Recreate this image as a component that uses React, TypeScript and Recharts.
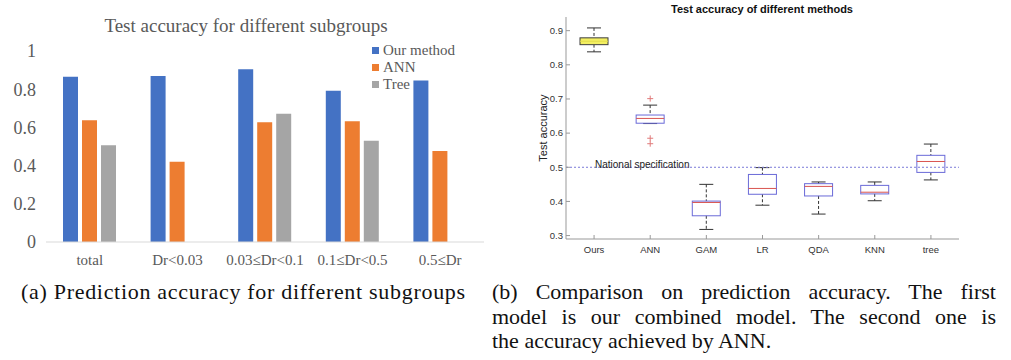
import React from "react";
import {
  BarChart,
  Bar,
  XAxis,
  YAxis,
  ComposedChart,
  Scatter,
  ReferenceLine,
} from "recharts";

// (a) subgroup accuracy
const groups = ["total", "Dr<0.03", "0.03≤Dr<0.1", "0.1≤Dr<0.5", "0.5≤Dr"];
const ourMethod = [0.865, 0.869, 0.904, 0.792, 0.845];
const annAcc = [0.637, 0.42, 0.627, 0.632, 0.476];
const treeAcc = [0.506, null, 0.672, 0.53, null];
const barTicks = [0, 0.2, 0.4, 0.6, 0.8, 1];

// (b) box plot per method
const methods = ["Ours", "ANN", "GAM", "LR", "QDA", "KNN", "tree"];
const whiskerLow = [0.838, 0.628, 0.318, 0.389, 0.363, 0.402, 0.463];
const q1 = [0.859, 0.629, 0.358, 0.421, 0.416, 0.422, 0.485];
const median = [0.869, 0.643, 0.397, 0.438, 0.444, 0.427, 0.517];
const q3 = [0.879, 0.653, 0.401, 0.479, 0.452, 0.447, 0.535];
const whiskerHigh = [0.908, 0.682, 0.45, 0.499, 0.457, 0.457, 0.568];
const outlierA = [null, 0.701, null, null, null, null, null];
const outlierB = [null, 0.585, null, null, null, null, null];
const outlierC = [null, 0.569, null, null, null, null, null];
const boxTicks = [0.3, 0.4, 0.5, 0.6, 0.7, 0.8, 0.9];
const nationalSpec = 0.5;

const barData = groups.map((name, i) => ({
  name,
  ours: ourMethod[i],
  ann: annAcc[i],
  tree: treeAcc[i],
}));

const boxData = methods.map((name, i) => ({
  name,
  range: [whiskerLow[i], whiskerHigh[i]],
  q1: q1[i],
  med: median[i],
  q3: q3[i],
  o1: outlierA[i],
  o2: outlierB[i],
  o3: outlierC[i],
}));

const serif = "'Liberation Serif', 'Times New Roman', serif";
const sans = "'Liberation Sans', Arial, sans-serif";

const legendItems = [
  { label: "Our method", color: "#4472C4" },
  { label: "ANN", color: "#ED7D31" },
  { label: "Tree", color: "#A5A5A5" },
];

// whiskers, caps, box and median, placed with the bar's own y scale
const BoxShape = (props: any) => {
  const { x, y, width, height, payload, index } = props;
  const [lo, hi] = payload.range;
  const k = height / (hi - lo);
  const py = (v: number) => y + (hi - v) * k;
  const cx = x + width / 2;
  const cap = width / 4;
  const ours = index === 0;
  const edge = ours ? "#3c3c3c" : "#6a6ad8";
  return (
    <g>
      <line x1={cx} x2={cx} y1={py(hi)} y2={py(payload.q3)} stroke="#333" strokeDasharray="3 2" />
      <line x1={cx} x2={cx} y1={py(payload.q1)} y2={py(lo)} stroke="#333" strokeDasharray="3 2" />
      <line x1={cx - cap} x2={cx + cap} y1={py(hi)} y2={py(hi)} stroke="#333" />
      <line x1={cx - cap} x2={cx + cap} y1={py(lo)} y2={py(lo)} stroke="#333" />
      <rect
        x={x}
        y={py(payload.q3)}
        width={width}
        height={py(payload.q1) - py(payload.q3)}
        fill={ours ? "#f3ef62" : "none"}
        stroke={edge}
      />
      <line
        x1={x}
        x2={x + width}
        y1={py(payload.med)}
        y2={py(payload.med)}
        stroke={ours ? "#e3dc4a" : "#d9534f"}
      />
    </g>
  );
};

const PlusShape = (props: any) => {
  const { cx, cy } = props;
  if (!Number.isFinite(cx) || !Number.isFinite(cy)) return <g />;
  return (
    <path
      d={`M${cx - 3},${cy}h6M${cx},${cy - 3}v6`}
      stroke="#e07a7a"
      strokeWidth={1}
      fill="none"
    />
  );
};

const emptyTick = () => <g />;

export default function App() {
  return (
    <div
      style={{
        position: "absolute",
        left: 0,
        top: 0,
        width: 1011,
        height: 360,
        background: "#fff",
        overflow: "hidden",
      }}
    >
      {/* left: bar chart */}
      <div
        style={{
          position: "absolute",
          left: 46,
          width: 400,
          top: 15,
          textAlign: "center",
          fontFamily: serif,
          fontSize: 19,
          color: "#595959",
        }}
      >
        Test accuracy for different subgroups
      </div>
      <div style={{ position: "absolute", left: 0, top: 0 }}>
        <BarChart
          width={490}
          height={275}
          data={barData}
          margin={{ top: 51, right: 6, left: 0, bottom: 3 }}
          barSize={15}
          barGap={4}
        >
          <XAxis
            dataKey="name"
            height={30}
            interval={0}
            tickLine={false}
            tickSize={0}
            tickMargin={12}
            axisLine={{ stroke: "#d9d9d9" }}
            tick={{ fontFamily: serif, fontSize: 15, fill: "#595959" }}
          />
          <YAxis
            domain={[0, 1]}
            ticks={barTicks}
            width={46}
            axisLine={false}
            tickLine={false}
            tickSize={0}
            tickMargin={10}
            tick={{ fontFamily: serif, fontSize: 18, fill: "#595959" }}
          />
          <Bar dataKey="ours" fill="#4472C4" isAnimationActive={false} />
          <Bar dataKey="ann" fill="#ED7D31" isAnimationActive={false} />
          <Bar dataKey="tree" fill="#A5A5A5" isAnimationActive={false} />
        </BarChart>
      </div>
      <div style={{ position: "absolute", left: 372, top: 42 }}>
        {legendItems.map((it) => (
          <div
            key={it.label}
            style={{
              display: "flex",
              alignItems: "center",
              height: 17,
              fontFamily: serif,
              fontSize: 15,
              color: "#595959",
            }}
          >
            <span
              style={{
                display: "inline-block",
                width: 7,
                height: 7,
                background: it.color,
                marginRight: 4,
              }}
            />
            {it.label}
          </div>
        ))}
      </div>

      {/* right: box plot */}
      <div
        style={{
          position: "absolute",
          left: 565,
          width: 394,
          top: 3,
          textAlign: "center",
          fontFamily: sans,
          fontWeight: "bold",
          fontSize: 11,
          color: "#111",
        }}
      >
        Test accuracy of different methods
      </div>
      <div style={{ position: "absolute", left: 500, top: 0 }}>
        <ComposedChart
          width={511}
          height={270}
          data={boxData}
          margin={{ top: 17, right: 52, left: 0, bottom: 1 }}
          barSize={28}
        >
          <XAxis
            dataKey="name"
            height={30}
            interval={0}
            tickSize={-4}
            tickMargin={11}
            axisLine={{ stroke: "#999" }}
            tickLine={{ stroke: "#999" }}
            tick={{ fontFamily: sans, fontSize: 9.5, fill: "#333" }}
          />
          <XAxis
            xAxisId="top"
            orientation="top"
            dataKey="name"
            height={0}
            interval={0}
            tickSize={-4}
            axisLine={{ stroke: "#999" }}
            tickLine={{ stroke: "#999" }}
            tick={emptyTick}
          />
          <YAxis
            domain={[0.29, 0.94]}
            ticks={boxTicks}
            allowDataOverflow
            width={66}
            tickSize={-4}
            tickMargin={7}
            axisLine={{ stroke: "#999" }}
            tickLine={{ stroke: "#999" }}
            tickFormatter={(v: number) => v.toFixed(1)}
            tick={{ fontFamily: sans, fontSize: 9.5, fill: "#333" }}
            label={{
              value: "Test accuracy",
              angle: -90,
              position: "insideLeft",
              offset: 43,
              style: { textAnchor: "middle", fontFamily: sans, fontSize: 11, fill: "#222" },
            }}
          />
          <YAxis
            yAxisId="right"
            orientation="right"
            domain={[0.29, 0.94]}
            ticks={boxTicks}
            allowDataOverflow
            width={0}
            tickSize={-4}
            axisLine={{ stroke: "#999" }}
            tickLine={{ stroke: "#999" }}
            tick={emptyTick}
          />
          <ReferenceLine
            y={nationalSpec}
            stroke="#7b7bd8"
            strokeDasharray="2 2"
            label={{
              value: "National specification",
              position: "insideLeft",
              offset: 29,
              dy: -3,
              style: { fontFamily: sans, fontSize: 10, fill: "#222" },
            }}
          />
          <Bar dataKey="range" shape={BoxShape} isAnimationActive={false} />
          <Scatter dataKey="o1" shape={PlusShape} isAnimationActive={false} />
          <Scatter dataKey="o2" shape={PlusShape} isAnimationActive={false} />
          <Scatter dataKey="o3" shape={PlusShape} isAnimationActive={false} />
        </ComposedChart>
      </div>

      {/* captions */}
      <div
        style={{
          position: "absolute",
          left: 21,
          top: 280,
          fontFamily: serif,
          fontSize: 22,
          letterSpacing: 0.7,
          lineHeight: "24.5px",
          color: "#111",
          whiteSpace: "nowrap",
        }}
      >
        (a) Prediction accuracy for different subgroups
      </div>
      <div
        style={{
          position: "absolute",
          left: 492,
          top: 280,
          width: 504,
          fontFamily: serif,
          fontSize: 22,
          lineHeight: "24.5px",
          color: "#111",
        }}
      >
        <div style={{ textAlign: "justify", textAlignLast: "justify" }}>
          (b) Comparison on prediction accuracy. The first
        </div>
        <div style={{ textAlign: "justify", textAlignLast: "justify" }}>
          model is our combined model. The second one is
        </div>
        <div>the accuracy achieved by ANN.</div>
      </div>
    </div>
  );
}
